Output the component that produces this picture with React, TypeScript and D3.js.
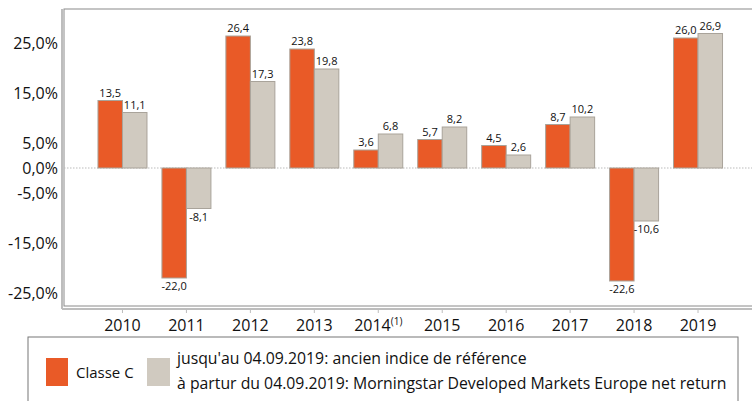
import React from "react";
import * as d3 from "d3";

const years = ["2010", "2011", "2012", "2013", "2014", "2015", "2016", "2017", "2018", "2019"];
const yearNotes = ["", "", "", "", "(1)", "", "", "", "", ""];
const classeC = [13.5, -22.0, 26.4, 23.8, 3.6, 5.7, 4.5, 8.7, -22.6, 26.0];
const indice = [11.1, -8.1, 17.3, 19.8, 6.8, 8.2, 2.6, 10.2, -10.6, 26.9];
const yTicks = [25, 15, 5, 0, -5, -15, -25];
const seriesNames = ["Classe C"];
const indexLegend = [
  "jusqu'au 04.09.2019: ancien indice de référence",
  "à partur du 04.09.2019: Morningstar Developed Markets Europe net return",
];

const W = 752;
const H = 401;
const ORANGE = "#E95A27";
const GRAY = "#D0CAC0";
const FONT = "'Open Sans', sans-serif";

export default function App() {
  const plotL = 64;
  const plotT = 9;
  const plotB = 306;
  const y = d3.scaleLinear().domain([-28, 31.8]).range([308, 9]);
  const x = d3.scaleBand<string>().domain(years).range([90.5, 730]).paddingInner(0).paddingOuter(0);
  const barW = 24.5;
  const fmt = (v: number) => d3.format(".1f")(v).replace(".", ",").replace("\u2212", "-");
  const y0 = y(0);

  const bar = (v: number, cx: number, fill: string, key: string) => {
    const top = Math.min(y(v), y0);
    const h = Math.abs(y(v) - y0);
    return (
      <g key={key}>
        <rect x={cx} y={top} width={barW} height={h} fill={fill} stroke="#A9A39A" strokeWidth={1} />
        <text
          x={cx + barW / 2}
          y={v >= 0 ? y(v) - 4 : y(v) + 12}
          textAnchor="middle"
          fontSize={11}
          fill="#111"
        >
          {fmt(v)}
        </text>
      </g>
    );
  };

  return (
    <svg width={W} height={H} style={{ position: "absolute", left: 0, top: 0, background: "#fff" }} fontFamily={FONT}>
      <rect x={plotL} y={plotT} width={W - plotL + 10} height={plotB - plotT} fill="#fff" stroke="#8A8A8A" strokeWidth={1} />
      <line x1={62} x2={62} y1={plotT} y2={309} stroke="#BDBDBD" strokeWidth={2} />
      <line x1={62} x2={W} y1={309} y2={309} stroke="#BDBDBD" strokeWidth={2} />
      <line x1={plotL} x2={W} y1={y0} y2={y0} stroke="#BBBBBB" strokeWidth={1} strokeDasharray="1.5,1.5" />
      {yTicks.map((t) => (
        <text key={t} x={58} y={y(t)} dy="0.35em" textAnchor="end" fontSize={16} fill="#111">
          {fmt(t)}%
        </text>
      ))}
      {years.map((yr, i) => {
        const cx = (x(yr) as number) + x.bandwidth() / 2;
        return (
          <g key={yr}>
            <line x1={cx} x2={cx} y1={309} y2={313} stroke="#BDBDBD" />
            {bar(classeC[i], cx - barW, ORANGE, "c" + yr)}
            {bar(indice[i], cx, GRAY, "i" + yr)}
            <text x={cx} y={331} textAnchor="middle" fontSize={16} fill="#111">
              {yr}
              {yearNotes[i] ? (
                <tspan fontSize={10} dy={-6}>
                  {yearNotes[i]}
                </tspan>
              ) : null}
            </text>
          </g>
        );
      })}
      <rect x={28} y={337} width={710} height={90} fill="none" stroke="#777" strokeWidth={1} />
      <rect x={46} y={358} width={22} height={28} fill={ORANGE} />
      <text x={76} y={378} fontSize={15} fill="#111">
        {seriesNames[0]}
      </text>
      <rect x={147} y={358} width={23} height={28} fill={GRAY} />
      <text x={177} y={364} fontSize={15.8} fill="#111">
        {indexLegend[0]}
      </text>
      <text x={177} y={389} fontSize={15.8} fill="#111">
        {indexLegend[1]}
      </text>
    </svg>
  );
}
